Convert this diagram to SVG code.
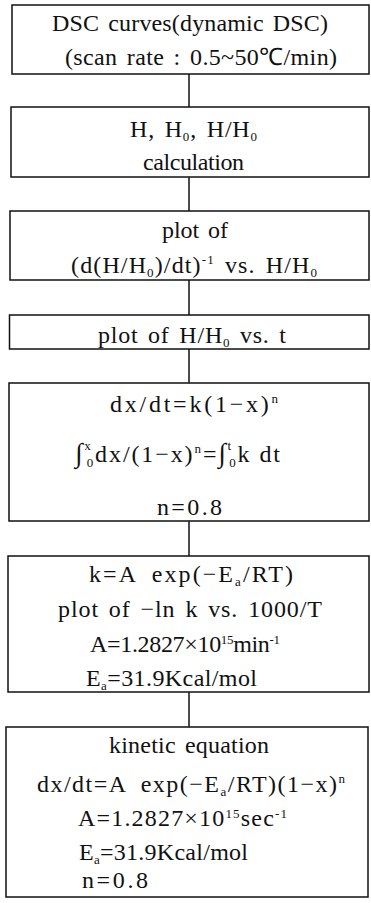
<svg xmlns="http://www.w3.org/2000/svg" width="371" height="903" viewBox="0 0 371 903">
<style>
.box{fill:#fff;stroke:#111;stroke-width:1.5}
.con{stroke:#111;stroke-width:1.5;fill:none}
text{font-family:"Liberation Serif","Times New Roman",serif;font-size:24px;fill:#111;word-spacing:3px}
.s{font-size:13px}
</style>
<rect width="371" height="903" fill="#fff"/>
<g id="connectors">
<line class="con" x1="189" y1="74" x2="189" y2="107"/>
<line class="con" x1="189" y1="177" x2="189" y2="211"/>
<line class="con" x1="189" y1="280" x2="189" y2="315"/>
<line class="con" x1="189" y1="349" x2="189" y2="383"/>
<line class="con" x1="189" y1="521" x2="189" y2="556"/>
<line class="con" x1="189" y1="692" x2="189" y2="727"/>
</g>
<g id="n1">
<rect class="box" x="12" y="5" width="357" height="69"/>
<text x="52" y="31" textLength="276">DSC curves(dynamic DSC)</text>
<text x="65" y="65" textLength="272">(scan rate : 0.5~50℃/min)</text>
</g>
<g id="n2">
<rect class="box" x="11" y="107" width="358" height="70"/>
<text x="130" y="137" textLength="127">H, H<tspan class="s" dy="4">0</tspan><tspan dy="-4">, H/H</tspan><tspan class="s" dy="4">0</tspan></text>
<text x="143" y="170" textLength="101">calculation</text>
</g>
<g id="n3">
<rect class="box" x="10" y="211" width="359" height="69"/>
<text x="162" y="238" textLength="66">plot of</text>
<text x="71" y="273" textLength="246">(d(H/H<tspan class="s" dy="4">0</tspan><tspan dy="-4">)/dt)</tspan><tspan class="s" dy="-9">-1</tspan><tspan dy="9"> vs. H/H</tspan><tspan class="s" dy="4">0</tspan></text>
</g>
<g id="n4">
<rect class="box" x="9.5" y="315" width="359.5" height="34"/>
<text x="98" y="343" textLength="188">plot of H/H<tspan class="s" dy="4">0</tspan><tspan dy="-4"> vs. t</tspan></text>
</g>
<g id="n5">
<rect class="box" x="9" y="383" width="360" height="138"/>
<text x="110" y="412" textLength="168">dx/dt=k(1−x)<tspan class="s" dy="-9">n</tspan></text>
<text x="75" y="462" textLength="205"><tspan font-size="27">∫</tspan><tspan class="s" dy="-12">x</tspan><tspan class="s" dx="-6" dy="17">0</tspan><tspan dy="-5">dx/(1−x)</tspan><tspan class="s" dy="-9">n</tspan><tspan dy="9">=</tspan><tspan font-size="27">∫</tspan><tspan class="s" dy="-12">t</tspan><tspan class="s" dx="-4" dy="17">0</tspan><tspan dy="-5">k</tspan><tspan dx="8">dt</tspan></text>
<text x="157" y="515" textLength="65">n=0.8</text>
</g>
<g id="n6">
<rect class="box" x="8" y="556" width="361" height="136"/>
<text x="89" y="582" textLength="204">k=A <tspan dx="4">exp(−E</tspan><tspan class="s" dy="4">a</tspan><tspan dy="-4">/RT)</tspan></text>
<text x="58" y="617" textLength="264">plot of −ln k vs. 1000/T</text>
<text x="90" y="652" textLength="190">A=1.2827×10<tspan class="s" dy="-8">15</tspan><tspan dy="8">min</tspan><tspan class="s" dy="-8">-1</tspan></text>
<text x="86" y="686" textLength="171">E<tspan class="s" dy="4">a</tspan><tspan dy="-4">=31.9Kcal/mol</tspan></text>
</g>
<g id="n7">
<rect class="box" x="6" y="727" width="362" height="170"/>
<text x="109" y="753" textLength="160">kinetic equation</text>
<text x="37" y="792" textLength="308">dx/dt=A <tspan dx="4">exp(−E</tspan><tspan class="s" dy="4">a</tspan><tspan dy="-4">/RT)(1−x)</tspan><tspan class="s" dy="-9">n</tspan></text>
<text x="78" y="826" textLength="209">A=1.2827×10<tspan class="s" dy="-8">15</tspan><tspan dy="8">sec</tspan><tspan class="s" dy="-8">-1</tspan></text>
<text x="79" y="860" textLength="169">E<tspan class="s" dy="4">a</tspan><tspan dy="-4">=31.9Kcal/mol</tspan></text>
<text x="82" y="888" textLength="66">n=0.8</text>
</g>
</svg>
